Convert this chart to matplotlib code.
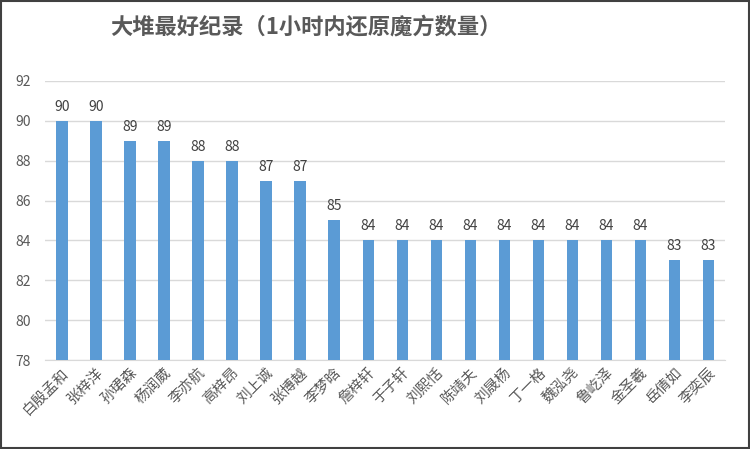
import matplotlib.pyplot as plt
from matplotlib.patches import Rectangle

plt.rcParams['font.family'] = ['Noto Sans CJK SC', 'DejaVu Sans']

# 数据
names = ['白殷孟和', '张梓洋', '孙珺森', '杨润葳', '李亦航', '高梓昂', '刘上诚',
         '张博越', '李梦晗', '詹梓轩', '于子轩', '刘熙恬', '陈靖夫', '刘晟杨',
         '丁一格', '魏泓尧', '鲁屹泽', '金圣羲', '岳倩如', '李奕辰']
scores = [90, 90, 89, 89, 88, 88, 87, 87, 85, 84, 84, 84, 84, 84, 84, 84, 84, 84, 83, 83]

fig = plt.figure(figsize=(7.5, 4.49), dpi=100)
ax = fig.add_axes([0.06, 0.198, 0.907, 0.622])

x = range(len(names))
bars = ax.bar(x, scores, width=0.33, color='#5b9bd5', zorder=3)
for i, v in enumerate(scores):
    ax.text(i, v + 0.35, str(v), ha='center', va='bottom', fontsize=10, color='#404040')

ax.set_ylim(78, 92)
ax.set_xlim(-0.5, len(names) - 0.5)
ax.set_yticks(range(78, 93, 2))
ax.yaxis.grid(True, color='#d9d9d9', linewidth=1, zorder=0)
ax.set_xticks(list(x))
ax.set_xticklabels(names, rotation=45, ha='right', rotation_mode='anchor',
                   fontsize=10.5, color='#595959')
ax.tick_params(axis='y', labelsize=10, colors='#595959', length=0, pad=10)
ax.tick_params(axis='x', length=0, pad=4)
for s in ['top', 'right', 'left']:
    ax.spines[s].set_visible(False)
ax.spines['bottom'].set_color('#d9d9d9')

fig.text(0.408, 0.94, '大堆最好纪录（1小时内还原魔方数量）', ha='center', va='center',
         fontsize=16, color='#595959', fontweight='semibold')

fig.patches.append(Rectangle((0.001, 0.002), 0.997, 0.996, transform=fig.transFigure,
                             fill=False, edgecolor='#404040', linewidth=1.5))

fig.savefig('out.png', dpi=100)
